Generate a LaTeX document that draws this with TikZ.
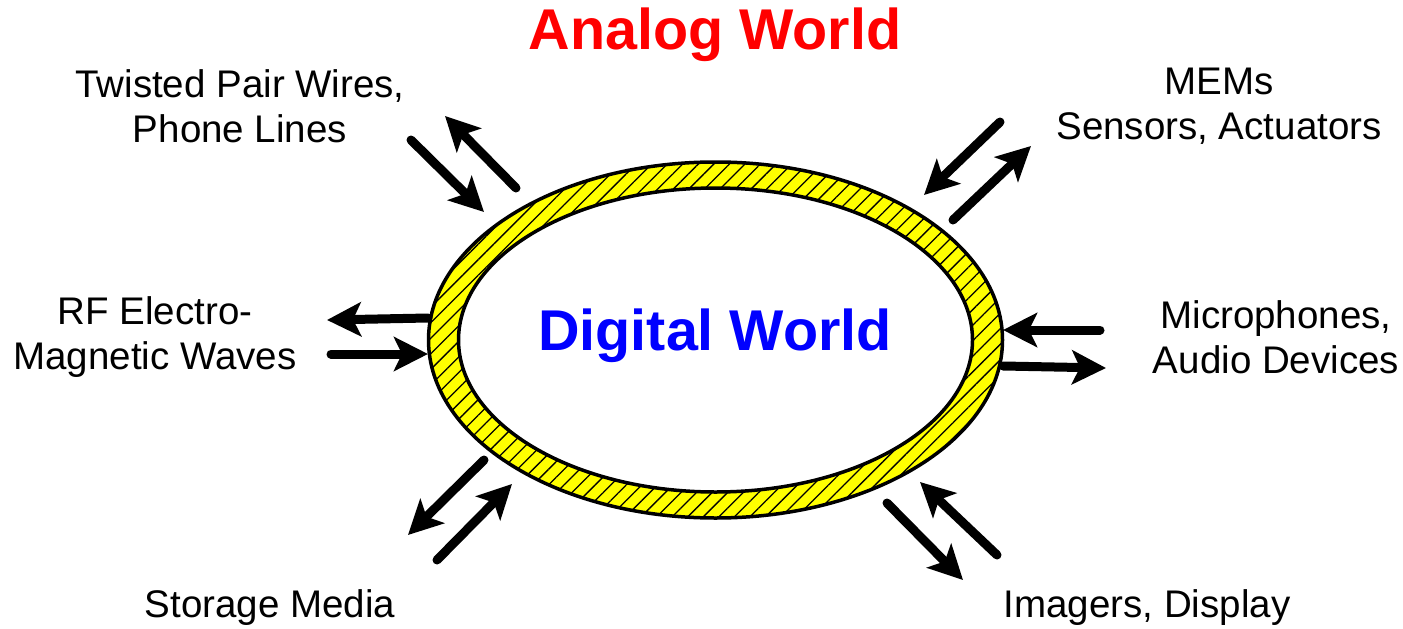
\documentclass[tikz,border=0pt]{standalone}
\usepackage{fontspec}
\setmainfont{Liberation Sans}
\usetikzlibrary{arrows.meta,patterns.meta}
\definecolor{ringyellow}{RGB}{255,255,0}
\begin{document}
\begin{tikzpicture}[x=1pt,y=-1pt,
  flow/.style={line width=9pt,line cap=round,-{Stealth[length=34pt,width=34pt,inset=8pt]}},
  lbl/.style={font=\fontsize{38.5}{45}\selectfont,align=center,inner sep=0pt},
  title/.style={font=\fontsize{57.5}{60}\selectfont\bfseries,inner sep=0pt}]
\useasboundingbox (0,0) rectangle (1403,629);

% the hatched ring between the two worlds
\fill[ringyellow,even odd rule] (715.5,340) ellipse [x radius=287,y radius=178]
                                (715.5,340) ellipse [x radius=257,y radius=152];
\fill[pattern={Lines[angle=45,distance=11pt,line width=1.3pt]},pattern color=black,even odd rule]
  (715.5,340) ellipse [x radius=287,y radius=178]
  (715.5,340) ellipse [x radius=257,y radius=152];
\draw[line width=3.5pt] (715.5,340) ellipse [x radius=287,y radius=178];
\draw[line width=3.5pt] (715.5,340) ellipse [x radius=257,y radius=152];

\node[title,text=red] (analog) at (715,35) {Analog World};
\node[title,text=blue] (digital) at (715,336) {Digital World};

\node[lbl] (twisted) at (240,106) {Twisted Pair Wires,\\Phone Lines};
\node[lbl] (mems) at (1219,106) {MEMs\\Sensors, Actuators};
\node[lbl] (rf) at (155,337) {RF Electro-\\Magnetic Waves};
\node[lbl] (mic) at (1276,337) {Microphones,\\Audio Devices};
\node[lbl] (storage) at (270,608) {Storage Media};
\node[lbl] (imagers) at (1147,608) {Imagers, Display};

% arrow end points
\coordinate (tlA) at (411,140); \coordinate (tlB) at (484,212);
\coordinate (tlC) at (516,188); \coordinate (tlD) at (445,116);
\coordinate (trA) at (1000,122); \coordinate (trB) at (924,195);
\coordinate (trC) at (953,220); \coordinate (trD) at (1031,146);
\coordinate (lA) at (428,318); \coordinate (lB) at (327,320);
\coordinate (lC) at (331,354); \coordinate (lD) at (428,354);
\coordinate (rA) at (1100,330); \coordinate (rB) at (1003,330);
\coordinate (rC) at (1003,366); \coordinate (rD) at (1106,368);
\coordinate (blA) at (484,460); \coordinate (blB) at (408,535);
\coordinate (blC) at (437,560); \coordinate (blD) at (512,484);
\coordinate (brA) at (887,503); \coordinate (brB) at (963,580);
\coordinate (brC) at (997,555); \coordinate (brD) at (920,482);

\draw[flow] (tlA) -- (tlB);
\draw[flow] (tlC) -- (tlD);
\draw[flow] (trA) -- (trB);
\draw[flow] (trC) -- (trD);
\draw[flow] (lA) -- (lB);
\draw[flow] (lC) -- (lD);
\draw[flow] (rA) -- (rB);
\draw[flow] (rC) -- (rD);
\draw[flow] (blA) -- (blB);
\draw[flow] (blC) -- (blD);
\draw[flow] (brA) -- (brB);
\draw[flow] (brC) -- (brD);
\end{tikzpicture}
\end{document}
